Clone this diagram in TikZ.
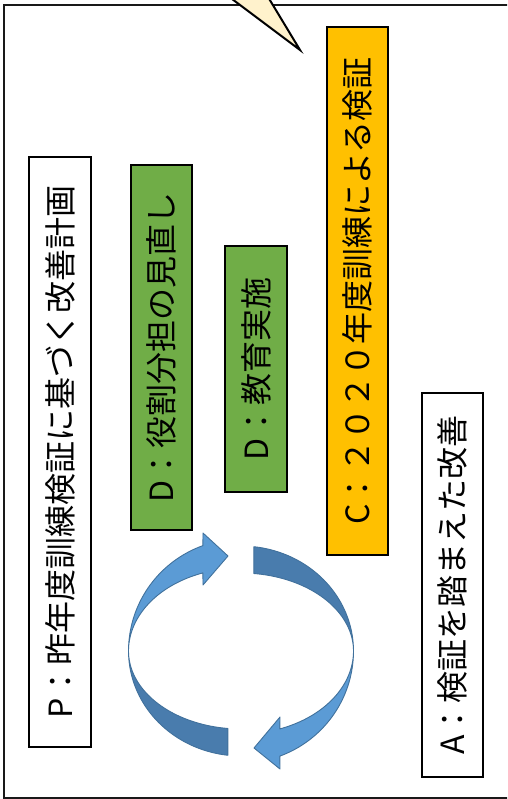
\documentclass[tikz,border=0pt]{standalone}
\usepackage{fontspec}
\newfontfamily\jp{Noto Sans CJK JP}
\definecolor{boxgreen}{HTML}{70AD47}
\definecolor{boxorange}{HTML}{FFC000}
\definecolor{cream}{HTML}{FFF2CC}
\definecolor{arrowlight}{HTML}{5B9BD5}
\definecolor{arrowdark}{RGB}{73,124,173}
\definecolor{arrowline}{HTML}{41719C}
\begin{document}
\begin{tikzpicture}[x=1pt,y=-1pt,
  stepbox/.style={draw=black, line width=1.5pt, rotate=90, inner sep=0pt,
    font=\jp\fontsize{32}{32}\selectfont, text=black},
  arrowpart/.style={draw=arrowline, line width=0.9pt, line join=round}]
\useasboundingbox (0,0) rectangle (507,799);
\clip (0,0) rectangle (507,799);
% outer frame
\draw[line width=2pt, draw=black!90] (3.5,5.5) rectangle (540,797.5);
% callout tail
\filldraw[fill=cream, draw=black, line width=2pt, line join=miter] (300,50) -- (216,-13) -- (262,-13) -- cycle;
% boxes
\node[stepbox, fill=white, minimum width=590pt, minimum height=62pt] (P) at (60,452) {P：昨年度訓練検証に基づく改善計画};
\node[stepbox, fill=boxgreen, minimum width=365pt, minimum height=61pt] (D1) at (161.5,347.5) {D：役割分担の見直し};
\node[stepbox, fill=boxgreen, minimum width=246pt, minimum height=62pt] (D2) at (256,369) {D：教育実施};
\node[stepbox, fill=boxorange, minimum width=528pt, minimum height=61pt] (C) at (357.5,291) {C：２０２０年度訓練による検証};
\node[stepbox, fill=white, minimum width=384pt, minimum height=61pt] (A) at (452.5,585) {A：検証を踏まえた改善};
% circular arrows
\filldraw[arrowpart, fill=arrowdark]
  plot[domain=96.7:180, samples=40] ({241+112.5*cos(\x)},{651+105*sin(\x)})
  -- plot[domain=180:96.7, samples=40] ({241+112.5*cos(\x)},{651+78*sin(\x)}) -- cycle;
\filldraw[arrowpart, fill=arrowlight]
  plot[domain=180:250.2, samples=40] ({241+112.5*cos(\x)},{651+112*sin(\x)})
  -- (203,533) -- (228,556) -- (203,585)
  -- plot[domain=250.2:180, samples=40] ({241+112.5*cos(\x)},{651+83*sin(\x)}) -- cycle;
\filldraw[arrowpart, fill=arrowdark]
  plot[domain=276.6:360, samples=40] ({241+112.5*cos(\x)},{651+105*sin(\x)})
  -- plot[domain=360:276.6, samples=40] ({241+112.5*cos(\x)},{651+78*sin(\x)}) -- cycle;
\filldraw[arrowpart, fill=arrowlight]
  plot[domain=0:69.8, samples=40] ({241+112.5*cos(\x)},{651+112*sin(\x)})
  -- (280,769) -- (254,748) -- (280,717)
  -- plot[domain=69.8:0, samples=40] ({241+112.5*cos(\x)},{651+83*sin(\x)}) -- cycle;
\end{tikzpicture}
\end{document}
